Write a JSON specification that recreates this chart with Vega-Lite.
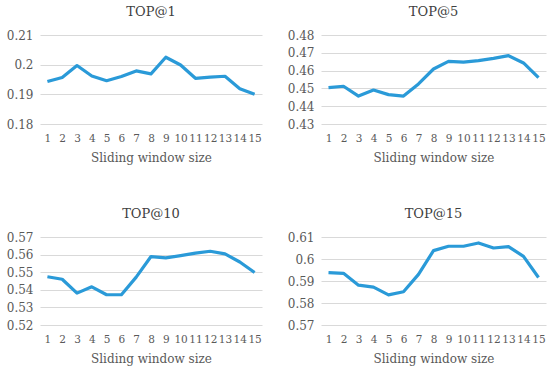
{
  "$schema": "https://vega.github.io/schema/vega-lite/v6.json",
  "padding": {"left": 6, "top": 6, "right": 3, "bottom": 2},
  "background": "white",
  "datasets": {
    "top1": [
      {"w": 1, "v": 0.1943}, {"w": 2, "v": 0.1957}, {"w": 3, "v": 0.1997}, {"w": 4, "v": 0.1962}, {"w": 5, "v": 0.1946},
      {"w": 6, "v": 0.1960}, {"w": 7, "v": 0.1979}, {"w": 8, "v": 0.1969}, {"w": 9, "v": 0.2025}, {"w": 10, "v": 0.1999},
      {"w": 11, "v": 0.1954}, {"w": 12, "v": 0.1958}, {"w": 13, "v": 0.1961}, {"w": 14, "v": 0.1919}, {"w": 15, "v": 0.1900}
    ],
    "top5": [
      {"w": 1, "v": 0.4504}, {"w": 2, "v": 0.4512}, {"w": 3, "v": 0.4457}, {"w": 4, "v": 0.4491}, {"w": 5, "v": 0.4465},
      {"w": 6, "v": 0.4457}, {"w": 7, "v": 0.4525}, {"w": 8, "v": 0.4609}, {"w": 9, "v": 0.4652}, {"w": 10, "v": 0.4648},
      {"w": 11, "v": 0.4656}, {"w": 12, "v": 0.4669}, {"w": 13, "v": 0.4684}, {"w": 14, "v": 0.4643}, {"w": 15, "v": 0.4560}
    ],
    "top10": [
      {"w": 1, "v": 0.5474}, {"w": 2, "v": 0.5460}, {"w": 3, "v": 0.5381}, {"w": 4, "v": 0.5417}, {"w": 5, "v": 0.5372},
      {"w": 6, "v": 0.5372}, {"w": 7, "v": 0.5472}, {"w": 8, "v": 0.5589}, {"w": 9, "v": 0.5581}, {"w": 10, "v": 0.5594},
      {"w": 11, "v": 0.5608}, {"w": 12, "v": 0.5619}, {"w": 13, "v": 0.5604}, {"w": 14, "v": 0.5558}, {"w": 15, "v": 0.5498}
    ],
    "top15": [
      {"w": 1, "v": 0.5938}, {"w": 2, "v": 0.5935}, {"w": 3, "v": 0.5881}, {"w": 4, "v": 0.5872}, {"w": 5, "v": 0.5837},
      {"w": 6, "v": 0.5851}, {"w": 7, "v": 0.5930}, {"w": 8, "v": 0.6038}, {"w": 9, "v": 0.6058}, {"w": 10, "v": 0.6058},
      {"w": 11, "v": 0.6073}, {"w": 12, "v": 0.6050}, {"w": 13, "v": 0.6056}, {"w": 14, "v": 0.6012}, {"w": 15, "v": 0.5916}
    ]
  },
  "config": {
    "font": "DejaVu Serif",
    "view": {"stroke": null},
    "title": {"font": "DejaVu Serif", "fontSize": 13, "fontWeight": "normal", "color": "#404040", "offset": 10},
    "axis": {
      "labelFont": "DejaVu Serif", "titleFont": "DejaVu Serif",
      "labelFontSize": 12, "titleFontSize": 12, "titleFontWeight": "normal",
      "labelColor": "#595959", "titleColor": "#595959",
      "domain": false, "ticks": false, "gridColor": "#D9D9D9", "gridWidth": 1
    },
    "axisX": {"labelAngle": 0, "labelFontSize": 10.5, "labelPadding": 9, "titlePadding": 9, "grid": false, "labelOverlap": false},
    "axisY": {"labelPadding": 7, "title": null},
    "line": {"color": "#2A9AD8", "strokeWidth": 3.2, "strokeJoin": "round"}
  },
  "vconcat": [
    {
      "hconcat": [
        {
          "title": "TOP@1", "width": 222, "height": 89,
          "data": {"name": "top1"}, "mark": "line",
          "encoding": {
            "x": {"field": "w", "type": "ordinal", "title": "Sliding window size"},
            "y": {"field": "v", "type": "quantitative", "scale": {"domain": [0.18, 0.21]}, "axis": {"values": [0.18, 0.19, 0.2, 0.21], "format": "~g"}}
          }
        },
        {
          "title": "TOP@5", "width": 225, "height": 89,
          "data": {"name": "top5"}, "mark": "line",
          "encoding": {
            "x": {"field": "w", "type": "ordinal", "title": "Sliding window size"},
            "y": {"field": "v", "type": "quantitative", "scale": {"domain": [0.43, 0.48]}, "axis": {"values": [0.43, 0.44, 0.45, 0.46, 0.47, 0.48], "format": "~g"}}
          }
        }
      ],
      "spacing": 25
    },
    {
      "hconcat": [
        {
          "title": "TOP@10", "width": 222, "height": 88,
          "data": {"name": "top10"}, "mark": "line",
          "encoding": {
            "x": {"field": "w", "type": "ordinal", "title": "Sliding window size"},
            "y": {"field": "v", "type": "quantitative", "scale": {"domain": [0.52, 0.57]}, "axis": {"values": [0.52, 0.53, 0.54, 0.55, 0.56, 0.57], "format": "~g"}}
          }
        },
        {
          "title": "TOP@15", "width": 225, "height": 88,
          "data": {"name": "top15"}, "mark": "line",
          "encoding": {
            "x": {"field": "w", "type": "ordinal", "title": "Sliding window size"},
            "y": {"field": "v", "type": "quantitative", "scale": {"domain": [0.57, 0.61]}, "axis": {"values": [0.57, 0.58, 0.59, 0.6, 0.61], "format": "~g"}}
          }
        }
      ],
      "spacing": 25
    }
  ],
  "spacing": 44
}
